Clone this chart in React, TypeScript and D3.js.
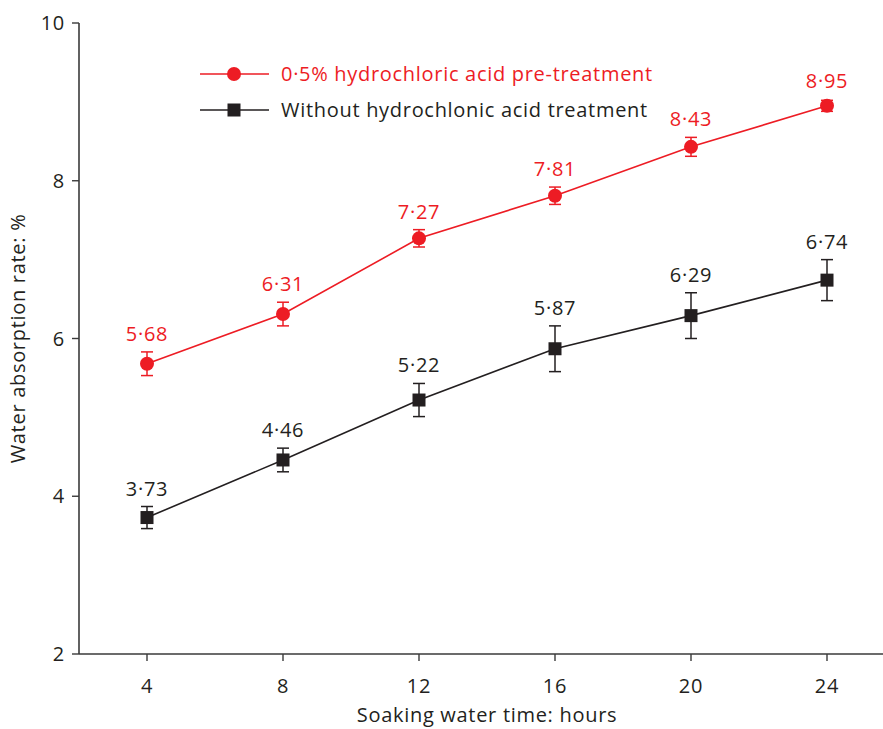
import React from "react";
import * as d3 from "d3";

const hours = [4, 8, 12, 16, 20, 24];
const acidValues = [5.68, 6.31, 7.27, 7.81, 8.43, 8.95];
const acidErrors = [0.15, 0.15, 0.11, 0.11, 0.12, 0.07];
const plainValues = [3.73, 4.46, 5.22, 5.87, 6.29, 6.74];
const plainErrors = [0.14, 0.15, 0.21, 0.29, 0.29, 0.26];
const yTicks = [2, 4, 6, 8, 10];
const xTicks = [4, 8, 12, 16, 20, 24];
const acidLabel = "0·5% hydrochloric acid pre-treatment";
const plainLabel = "Without hydrochlonic acid treatment";

const W = 883;
const H = 729;
const RED = "#ed1c24";
const DARK = "#231f20";
const AXIS = "#3a3a3a";
const FONT = "'Open Sans', 'Noto Sans', sans-serif";
const FS = 20;
const LS = 0.7;

const fmt = (v: number) => v.toFixed(2).replace(".", "·");

export default function App() {
  const x0 = 79;
  const x = d3.scaleLinear().domain([2, 2 + (W - x0) / 34]).range([x0, W]);
  const y = d3.scaleLinear().domain([2, 10]).range([654, 23]);

  const line = d3
    .line<[number, number]>()
    .x((d) => x(d[0]))
    .y((d) => y(d[1]));

  const series = [
    { values: acidValues, errors: acidErrors, color: RED, marker: "circle" },
    { values: plainValues, errors: plainErrors, color: DARK, marker: "square" },
  ];

  return (
    <svg
      width={W}
      height={H}
      style={{ position: "absolute", left: 0, top: 0, background: "#fff" }}
      fontFamily={FONT}
      letterSpacing={LS}
    >
      {/* axes */}
      <line x1={x0} x2={x0} y1={y(10)} y2={y(2)} stroke={AXIS} strokeWidth={1.6} />
      <line x1={x0} x2={W} y1={y(2)} y2={y(2)} stroke={AXIS} strokeWidth={1.6} />
      {yTicks.map((t) => (
        <g key={"y" + t}>
          <line x1={x0 - 7} x2={x0} y1={y(t)} y2={y(t)} stroke={AXIS} strokeWidth={1.4} />
          <text x={x0 - 14} y={y(t)} dy="0.35em" textAnchor="end" fontSize={FS} fill={DARK}>
            {t}
          </text>
        </g>
      ))}
      {xTicks.map((t) => (
        <g key={"x" + t}>
          <line x1={x(t)} x2={x(t)} y1={y(2)} y2={y(2) + 7} stroke={AXIS} strokeWidth={1.4} />
          <text x={x(t)} y={693} textAnchor="middle" fontSize={FS} fill={DARK}>
            {t}
          </text>
        </g>
      ))}
      <text x={487} y={722} textAnchor="middle" fontSize={FS} fill={DARK}>
        Soaking water time: hours
      </text>
      <text
        transform={`translate(25, ${y(6)}) rotate(-90)`}
        textAnchor="middle"
        fontSize={FS}
        fill={DARK}
      >
        Water absorption rate: %
      </text>

      {/* series */}
      {series.map((s, si) => {
        const pts = hours.map((h, i) => [h, s.values[i]] as [number, number]);
        return (
          <g key={si}>
            <path d={line(pts) || ""} fill="none" stroke={s.color} strokeWidth={1.6} />
            {pts.map(([h, v], i) => {
              const cx = x(h);
              const top = y(v + s.errors[i]);
              const bot = y(v - s.errors[i]);
              return (
                <g key={i}>
                  <line x1={cx} x2={cx} y1={top} y2={bot} stroke={s.color} strokeWidth={1.5} />
                  <line x1={cx - 6} x2={cx + 6} y1={top} y2={top} stroke={s.color} strokeWidth={1.5} />
                  <line x1={cx - 6} x2={cx + 6} y1={bot} y2={bot} stroke={s.color} strokeWidth={1.5} />
                  {s.marker === "circle" ? (
                    <circle cx={cx} cy={y(v)} r={7} fill={s.color} />
                  ) : (
                    <rect x={cx - 6.5} y={y(v) - 6.5} width={13} height={13} fill={s.color} />
                  )}
                  <text
                    x={cx}
                    y={Math.min(top, y(v) - 7) - 11}
                    textAnchor="middle"
                    fontSize={FS}
                    fill={s.color}
                  >
                    {fmt(v)}
                  </text>
                </g>
              );
            })}
          </g>
        );
      })}

      {/* legend */}
      <g>
        <line x1={200} x2={269} y1={74} y2={74} stroke={RED} strokeWidth={1.6} />
        <circle cx={234} cy={74} r={7} fill={RED} />
        <text x={281} y={74} dy="0.35em" fontSize={FS} fill={RED}>
          {acidLabel}
        </text>
        <line x1={200} x2={269} y1={110} y2={110} stroke={DARK} strokeWidth={1.6} />
        <rect x={234 - 6.5} y={110 - 6.5} width={13} height={13} fill={DARK} />
        <text x={281} y={110} dy="0.35em" fontSize={FS} fill={DARK}>
          {plainLabel}
        </text>
      </g>
    </svg>
  );
}
